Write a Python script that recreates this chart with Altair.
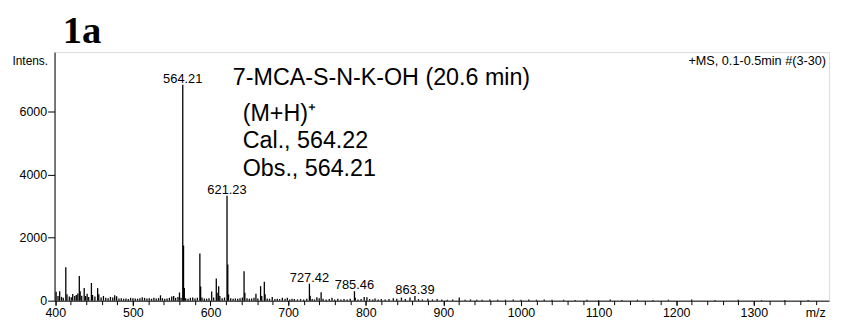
import altair as alt
import pandas as pd

# ---- spectrum sticks (m/z, intensity) ----
mz = [401.0, 403.5, 405.6, 408.0, 410.2, 413.5, 415.0, 418.0, 420.5, 422.4,
      425.0, 427.0, 429.0, 430.9, 432.0, 434.0, 437.2, 439.0, 441.0, 443.0,
      446.5, 448.0, 451.0, 454.5, 456.0, 459.0, 462.0, 465.0, 468.0, 471.0,
      474.0, 476.5, 479.0, 482.0, 485.0, 488.0, 491.0, 494.0, 497.0, 500.0,
      503.0, 506.0, 509.0, 512.0, 515.0, 518.0, 521.0, 524.0, 527.0, 530.0,
      533.0, 535.5, 538.0, 541.0, 544.0, 547.0, 550.0, 552.5, 555.0, 558.0,
      560.0, 562.0, 564.21, 565.22, 566.22, 568.0, 571.0, 574.0, 577.0, 580.0,
      583.0, 586.25, 587.25, 589.0, 592.0, 595.0, 598.0, 601.5, 604.0, 607.4,
      608.5, 610.5, 612.0, 615.0, 618.0, 621.23, 622.23, 623.2, 626.0, 629.0,
      632.0, 635.0, 638.0, 641.0, 643.2, 644.2, 647.0, 650.0, 653.0, 656.0,
      658.5, 661.0, 664.5, 666.0, 669.3, 670.3, 673.0, 676.0, 679.5, 683.0,
      686.0, 689.0, 692.5, 696.0, 699.0, 702.0, 705.0, 708.0, 712.0, 716.0,
      720.0, 724.0, 727.42, 728.4, 731.0, 734.0, 737.0, 740.0, 742.5, 745.0,
      749.0, 753.0, 756.5, 760.0, 764.0, 768.0, 772.0, 776.0, 780.0, 785.46,
      786.5, 790.0, 794.0, 798.0, 801.5, 805.0, 809.0, 812.0, 816.0, 820.0,
      825.0, 830.0, 835.5, 840.0, 846.0, 851.0, 857.0, 863.39, 868.0, 873.0,
      880.0, 886.0, 892.0, 898.0, 905.0, 912.0, 920.5, 928.0, 935.0, 943.0,
      950.0, 960.0, 970.0, 980.0, 990.0, 1000.0, 1010.0, 1020.0, 1030.0, 1040.0,
      1055.0, 1070.0, 1085.0, 1100.0, 1115.0, 1130.0, 1150.0, 1170.0, 1190.0, 1220.0,
      1250.0, 1280.0, 1310.0, 1340.0, 1370.0]
intensity = [280, 150, 300, 120, 90, 1060, 200, 130, 110, 210,
             150, 180, 230, 780, 300, 160, 400, 150, 220, 120,
             560, 180, 130, 400, 200, 100, 150, 90, 80, 120,
             100, 170, 140, 70, 80, 60, 70, 50, 90, 80,
             70, 60, 80, 110, 90, 70, 80, 60, 90, 70,
             80, 170, 80, 60, 70, 90, 130, 150, 90, 120,
             260, 90, 6850, 1750, 400, 80, 60, 90, 100, 70,
             90, 1500, 450, 100, 70, 60, 80, 290, 100, 700,
             250, 460, 150, 80, 100, 3330, 1150, 200, 80, 60,
             70, 60, 80, 100, 930, 250, 80, 60, 70, 90,
             220, 70, 460, 150, 600, 200, 70, 60, 120, 50,
             60, 50, 90, 60, 90, 40, 60, 50, 40, 50,
             40, 60, 540, 160, 50, 40, 110, 80, 270, 60,
             40, 50, 90, 40, 60, 40, 50, 40, 60, 300,
             90, 40, 50, 120, 110, 50, 40, 70, 40, 50,
             40, 50, 80, 60, 100, 50, 100, 150, 50, 40,
             60, 40, 50, 40, 30, 40, 100, 30, 40, 30,
             30, 40, 30, 30, 40, 30, 40, 30, 40, 30,
             30, 20, 30, 20, 40, 20, 30, 20, 30, 40,
             20, 30, 20, 20, 20]

# ---- labelled peaks ----
label_mz = [564.21, 621.23, 727.42, 785.46, 863.39]
label_int = [6850, 3330, 540, 300, 150]
label_txt = ["564.21", "621.23", "727.42", "785.46", "863.39"]

# ---- annotation block ----
note_txt = ["7-MCA-S-N-K-OH (20.6 min)", "(M+H)\u207a", "Cal., 564.22", "Obs., 564.21"]
note_mz = [628.7, 641.5, 641.5, 641.5]
note_int = [6830, 5710, 4840, 3965]

header_txt = ["+MS, 0.1-0.5min #(3-30)"]
header_mz = [1393]
header_int = [7460]

panel_txt = ["1a"]
panel_mz = [409.5]
panel_int = [8165]

x_major = list(range(400, 1301, 100))
x_minor = list(range(400, 1397, 20))
y_ticks = list(range(0, 8000, 1000))

FONT = "Liberation Sans"

xscale = alt.Scale(domain=[399, 1397], nice=False, zero=False)
yscale = alt.Scale(domain=[0, 7885], nice=False)

spec = pd.DataFrame({"mz": mz, "intensity": intensity})
labels = pd.DataFrame({"mz": label_mz, "intensity": label_int, "txt": label_txt})
notes = pd.DataFrame({"mz": note_mz, "intensity": note_int, "txt": note_txt})
header = pd.DataFrame({"mz": header_mz, "intensity": header_int, "txt": header_txt})
panel = pd.DataFrame({"mz": panel_mz, "intensity": panel_int, "txt": panel_txt})

xaxis_major = alt.Axis(
    orient="bottom",
    values=x_major,
    format="d",
    labelOverlap=False,
    tickSize=5,
    labelPadding=1,
    labelFontSize=12.5,
    labelFont=FONT,
    labelColor="black",
    tickColor="black",
    domainColor="black",
    grid=False,
    labelFlush=False,
    title="m/z",
    titleFont=FONT,
    titleFontSize=12.5,
    titleFontWeight="normal",
    titleColor="black",
    titleX=768,
    titleY=16,
    titleAlign="center",
    titleBaseline="alphabetic",
)
xaxis_minor = alt.Axis(
    orient="bottom",
    values=x_minor,
    labels=False,
    domain=False,
    tickSize=4,
    tickColor="black",
    grid=False,
    title=None,
)
yaxis = alt.Axis(
    values=y_ticks,
    format="d",
    labelExpr="datum.value % 2000 === 0 ? datum.label : ''",
    labelOverlap=False,
    tickSize=7,
    labelPadding=1,
    labelFontSize=12.5,
    labelFont=FONT,
    labelColor="black",
    tickColor="black",
    domainColor="black",
    grid=False,
    title="Intens.",
    titleFont=FONT,
    titleFontSize=12,
    titleFontWeight="normal",
    titleColor="black",
    titleAngle=0,
    titleX=-7,
    titleY=9,
    titleAlign="right",
    titleBaseline="middle",
)

sticks = alt.Chart(spec).mark_rule(color="black", strokeWidth=1.3).encode(
    x=alt.X("mz:Q", scale=xscale, axis=xaxis_major),
    y=alt.Y("intensity:Q", scale=yscale, axis=yaxis),
    y2=alt.datum(0),
)

peak_text = alt.Chart(labels).mark_text(
    font=FONT, fontSize=13, color="black", baseline="alphabetic", align="center", dy=-2
).encode(x=alt.X("mz:Q", axis=xaxis_minor), y="intensity:Q", text="txt:N")

note_text = alt.Chart(notes).mark_text(
    font=FONT, fontSize=23.5, color="black", baseline="alphabetic", align="left"
).encode(x=alt.X("mz:Q", axis=None), y="intensity:Q", text="txt:N")

header_text = alt.Chart(header).mark_text(
    font=FONT, fontSize=12.8, color="black", baseline="alphabetic", align="right"
).encode(x=alt.X("mz:Q", axis=None), y="intensity:Q", text="txt:N")

panel_text = alt.Chart(panel).mark_text(
    font="Liberation Serif", fontSize=39, fontWeight="bold", color="black",
    baseline="alphabetic", align="left"
).encode(x=alt.X("mz:Q", axis=None), y="intensity:Q", text="txt:N")

chart = alt.layer(sticks, peak_text, note_text, header_text, panel_text).resolve_axis(
    x="independent"
).properties(
    width=782,
    height=251,
    autosize=alt.AutoSizeParams(type="none"),
    padding={"left": 47, "top": 43, "right": 5, "bottom": 18},
).configure_view(stroke="#333333", strokeWidth=1).configure(background="white")

chart.save("out.html", embed_options={"renderer": "svg", "actions": False})
